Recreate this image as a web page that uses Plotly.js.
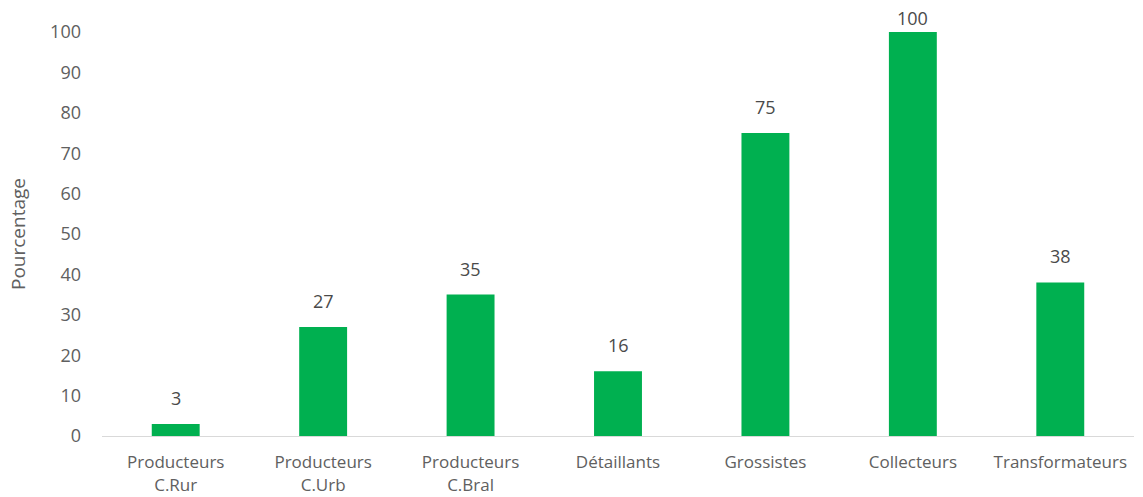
<!DOCTYPE html>
<html><head><meta charset="utf-8">
<script src="https://cdn.plot.ly/plotly-3.0.1.min.js"></script>
<style>html,body{margin:0;padding:0;background:#fff}</style>
</head><body>
<div id="chart" style="width:1143px;height:497px"></div>
<script>
const categories = ["Producteurs<br>C.Rur", "Producteurs<br>C.Urb", "Producteurs<br>C.Bral", "Détaillants", "Grossistes", "Collecteurs", "Transformateurs"];
const values = [3, 27, 35, 16, 75, 100, 38];
const yTicks = [0, 10, 20, 30, 40, 50, 60, 70, 80, 90, 100];

const trace = {
  type: 'bar',
  x: categories,
  y: values,
  marker: {color: '#00B050'},
  width: 0.325,
  hoverinfo: 'x+y'
};

const yMax = 100;
const annotations = categories.map((c, i) => ({
  x: c, y: values[i], xref: 'x', yref: 'y',
  text: String(values[i]), showarrow: false,
  yanchor: 'bottom', yshift: values[i] >= yMax ? 0 : 12,
  font: {family: 'Open Sans, sans-serif', size: 18, color: '#4a4a4a'}
}));

const layout = {
  width: 1143, height: 497,
  margin: {l: 102, r: 9, t: 32, b: 61},
  paper_bgcolor: '#fff', plot_bgcolor: '#fff',
  showlegend: false,
  bargap: 0.675,
  font: {family: 'Open Sans, sans-serif', color: '#606060'},
  annotations: annotations,
  xaxis: {
    type: 'category',
    showgrid: false, zeroline: false,
    showline: true, linecolor: '#D9D9D9', linewidth: 1,
    ticks: '',
    tickfont: {size: 17, color: '#606060'},
    ticklabelstandoff: 11
  },
  yaxis: {
    range: [0, yMax],
    tickvals: yTicks,
    showgrid: false, zeroline: false, showline: false,
    ticks: '',
    tickfont: {size: 18, color: '#606060'},
    ticklabelstandoff: 20,
    title: {text: 'Pourcentage', font: {size: 19, color: '#606060'}, standoff: 19}
  }
};

Plotly.newPlot('chart', [trace], layout, {displayModeBar: false, staticPlot: true});
</script>
</body></html>
